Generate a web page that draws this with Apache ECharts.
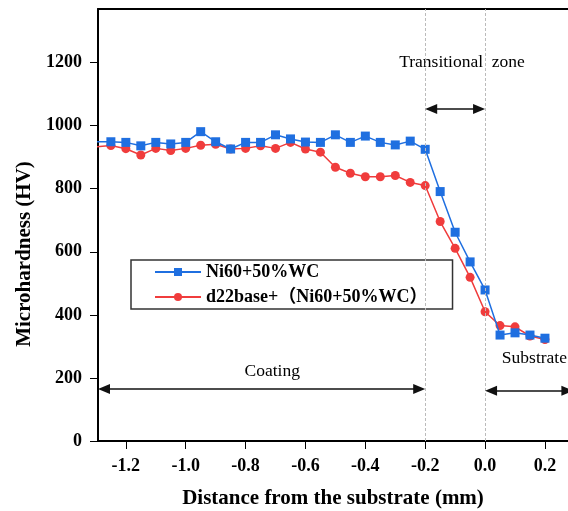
<!DOCTYPE html>
<html>
<head>
<meta charset="utf-8">
<script src="https://cdn.jsdelivr.net/npm/echarts@6/dist/echarts.min.js"></script>
<style>
html,body{margin:0;padding:0;background:#fff;}
#chart{width:568px;height:511px;}
</style>
</head>
<body>
<div id="chart"></div>
<script>
// ---- data ----
const distances = [-1.30,-1.25,-1.20,-1.15,-1.10,-1.05,-1.00,-0.95,-0.90,-0.85,-0.80,-0.75,-0.70,-0.65,-0.60,-0.55,-0.50,-0.45,-0.40,-0.35,-0.30,-0.25,-0.20,-0.15,-0.10,-0.05,0.00,0.05,0.10,0.15,0.20];
const ni60 = [949,949,947,936,947,942,947,981,949,926,947,947,971,958,948,947,971,947,967,947,939,951,925,791,662,568,479,336,343,336,326];
const d22 = [933,937,927,907,928,921,928,938,941,926,928,936,928,947,926,916,868,849,838,838,842,820,810,696,611,519,410,366,362,333,322];
const seriesNames = ['Ni60+50%WC', 'd22base+（Ni60+50%WC）'];
const xTicks = [-1.2,-1.0,-0.8,-0.6,-0.4,-0.2,0.0,0.2];
const yTicks = [0,200,400,600,800,1000,1200];
const zoneBounds = [-0.2, 0.0];
const notes = [
  {text:'Transitional  zone', x:-0.077, y:1202, align:'center'},
  {text:'Coating', x:-0.711, y:222, align:'center'},
  {text:'Substrate', x:0.056, y:263, align:'left'}
];
const arrows = [
  {from:[-1.273,165], to:[-0.22,165]},
  {from:[-0.18,1053], to:[-0.02,1053]},
  {from:[0.02,159], to:[0.275,159]}
];

const serif = 'Liberation Serif, Times New Roman, Noto Sans CJK SC, serif';
const blue = '#1f6fe0';
const red = '#f03c3c';

function pair(xs, ys){ return xs.map((x,i)=>[x, ys[i]]); }

const chart = echarts.init(document.getElementById('chart'), null, {renderer:'canvas'});
chart.setOption({
  animation:false,
  backgroundColor:'#fff',
  grid:{left:98, right:0, top:9, bottom:70, containLabel:false, outerBoundsMode:'none'},
  legend:{
    data:seriesNames,
    orient:'vertical',
    left:131, top:260,
    itemWidth:46, itemHeight:10, itemGap:7,
    padding:[3,25,3,23],
    borderColor:'#333', borderWidth:1.5,
    textStyle:{fontFamily:serif, fontWeight:'bold', fontSize:18, lineHeight:18, color:'#000'}
  },
  xAxis:[{
    type:'value', min:-1.293, max:0.277, position:'bottom',
    name:'Distance from the substrate (mm)', nameLocation:'middle', nameGap:47,
    nameTextStyle:{fontFamily:serif, fontWeight:'bold', fontSize:21, color:'#000'},
    axisLine:{show:true, onZero:false, lineStyle:{color:'#000', width:2}},
    axisTick:{show:true, inside:false, length:8, lineStyle:{color:'#000', width:1}, customValues:xTicks},
    axisLabel:{fontFamily:serif, fontWeight:'bold', fontSize:18, color:'#000', margin:16,
      customValues:xTicks, formatter:v=>v.toFixed(1)},
    splitLine:{show:false}
  },{
    type:'value', min:-1.293, max:0.277, position:'top',
    axisLine:{show:true, onZero:false, lineStyle:{color:'#000', width:2}},
    axisTick:{show:false}, axisLabel:{show:false}, splitLine:{show:false}
  }],
  yAxis:{
    type:'value', min:0, max:1370, position:'left',
    name:'Microhardness (HV)', nameLocation:'middle', nameGap:55,
    nameTextStyle:{fontFamily:serif, fontWeight:'bold', fontSize:21, color:'#000', padding:[0,58,0,0]},
    axisLine:{show:true, onZero:false, lineStyle:{color:'#000', width:2}},
    axisTick:{show:true, inside:false, length:8, lineStyle:{color:'#000', width:1}, customValues:yTicks},
    axisLabel:{fontFamily:serif, fontWeight:'bold', fontSize:18, color:'#000', margin:16,
      customValues:yTicks, formatter:v=>String(v)},
    splitLine:{show:false}
  },
  series:[{
    name:seriesNames[0], type:'line', data:pair(distances, ni60),
    symbol:'rect', symbolSize:9, showAllSymbol:true,
    lineStyle:{color:blue, width:1.5}, itemStyle:{color:blue},
    z:3,
    markLine:{
      silent:true, symbol:'none', animation:false,
      lineStyle:{color:'#bbb', type:[3,2], width:1},
      label:{show:false},
      data:zoneBounds.map(v=>({xAxis:v}))
    }
  },{
    name:seriesNames[1], type:'line', data:pair(distances, d22),
    symbol:'circle', symbolSize:9, showAllSymbol:true,
    lineStyle:{color:red, width:1.5}, itemStyle:{color:red},
    z:2,
    markLine:{
      silent:true, symbol:['triangle','triangle'], symbolSize:[10,12], animation:false,
      lineStyle:{color:'#111', type:'solid', width:1.5},
      itemStyle:{color:'#111'},
      label:{show:false},
      data:arrows.map(a=>[{coord:a.from},{coord:a.to}])
    }
  },{
    name:'notes', type:'scatter', symbolSize:0, silent:true,
    itemStyle:{opacity:1},
    data:notes.map(n=>({value:[n.x, n.y], label:{align:n.align}})),
    label:{show:true, position:'inside', fontFamily:serif, fontSize:17.5, color:'#000', opacity:1,
      formatter:p=>notes[p.dataIndex].text}
  }]
});
</script>
</body>
</html>
